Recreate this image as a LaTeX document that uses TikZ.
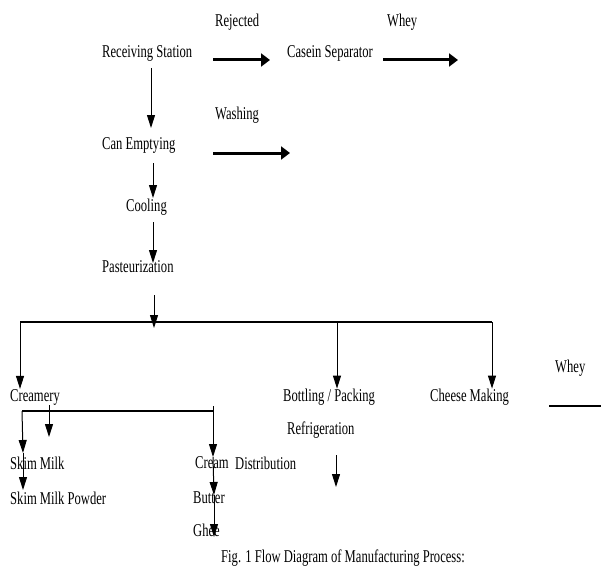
\documentclass[tikz,border=0pt]{standalone}
\usepackage{fontspec}
\setmainfont{Liberation Serif}[FakeStretch=0.7]
\usepackage{tikz}
\usetikzlibrary{arrows.meta}

\begin{document}
\begin{tikzpicture}[x=1pt, y=-1pt, every node/.style={anchor=west, inner sep=0pt, font=\fontsize{18}{20}\selectfont}]
    \useasboundingbox (0,0) rectangle (601,575);
    \tikzset{seta/.style={-{Triangle[length=13pt, width=8pt]}, line width=1pt},
             setagrossa/.style={-{Triangle[length=9pt, width=13pt]}, line width=3pt},
             barra/.style={line width=2pt}}

    % Etapas principais
    \node (rec) at (102, 53) {Receiving Station};
    \node (rej) at (215, 22) {Rejected};
    \node (cas) at (287, 53) {Casein Separator};
    \node (whey1) at (387, 22) {Whey};
    \node (wash) at (215, 115) {Washing};
    \node (can) at (102, 145) {Can Emptying};
    \node (cool) at (126, 207) {Cooling};
    \node (past) at (102, 267) {Pasteurization};

    % Ramos
    \node (crea) at (10, 397) {Creamery};
    \node (bott) at (283, 397) {Bottling / Packing};
    \node (chee) at (430, 397) {Cheese Making};
    \node (whey2) at (555, 368) {Whey};
    \node (refr) at (287, 430) {Refrigeration};
    \node (skim) at (10, 463) {Skim Milk};
    \node (smp) at (10, 498) {Skim Milk Powder};
    \node (crm) at (195, 463) {Cream};
    \node (dist) at (235, 463) {Distribution};
    \node (butt) at (193, 498) {Butter};
    \node (ghee) at (193, 530) {Ghee};
    \node (cap) at (221, 558) {Fig. 1 Flow Diagram of Manufacturing Process:};

    % Pontas livres das setas
    \coordinate (r1) at (213, 60);  \coordinate (r2) at (270, 60);
    \coordinate (c1) at (383, 60);  \coordinate (c2) at (458, 60);
    \coordinate (w1) at (213, 153); \coordinate (w2) at (290, 153);
    \coordinate (v1) at (151, 68);  \coordinate (v2) at (151, 128);
    \coordinate (v3) at (153, 163); \coordinate (v4) at (153, 198);
    \coordinate (v5) at (153, 222); \coordinate (v6) at (153, 263);
    \coordinate (v7) at (154, 295); \coordinate (v8) at (154, 328);
    \coordinate (b1) at (20, 322);  \coordinate (b2) at (337, 322);
    \coordinate (b3) at (492, 322);
    \coordinate (wl1) at (549, 406); \coordinate (wl2) at (601, 406);
    \coordinate (f1) at (336, 455); \coordinate (f2) at (336, 487);
    \coordinate (l1) at (22, 411);  \coordinate (l2) at (213, 411);
    \coordinate (l3) at (213, 406);
    \coordinate (m1) at (49, 405);  \coordinate (m2) at (49, 437);
    \coordinate (s1) at (23, 453);  \coordinate (s2) at (23, 490);
    \coordinate (g1) at (213, 457); \coordinate (g2) at (214, 495);
    \coordinate (g3) at (214, 537);

    % Setas horizontais
    \draw[setagrossa] (r1) -- (r2);
    \draw[setagrossa] (c1) -- (c2);
    \draw[setagrossa] (w1) -- (w2);

    % Linha principal
    \draw[seta] (v1) -- (v2);
    \draw[seta] (v3) -- (v4);
    \draw[seta] (v5) -- (v6);
    \draw[seta] (v7) -- (v8);

    % Distribuicao
    \draw[barra] (b1) -- (b3);
    \draw[seta] (b1) -- (b1 |- crea.north);
    \draw[seta] (b2) -- (b2 |- bott.north);
    \draw[seta] (b3) -- (b3 |- chee.north);
    \draw[barra] (wl1) -- (wl2);
    \draw[seta] (f1) -- (f2);

    % Creamery
    \draw[barra] (l1) -- (l2);
    \draw[line width=1pt] (l3) -- (l2);
    \draw[seta] (m1) -- (m2);
    \draw[seta] (l1) -- (s1);
    \draw[seta] (s1) -- (s2);
    \draw[seta] (l2) -- (g1);
    \draw[seta] (g1) -- (g2);
    \draw[seta] (g2) -- (g3);
\end{tikzpicture}
\end{document}
